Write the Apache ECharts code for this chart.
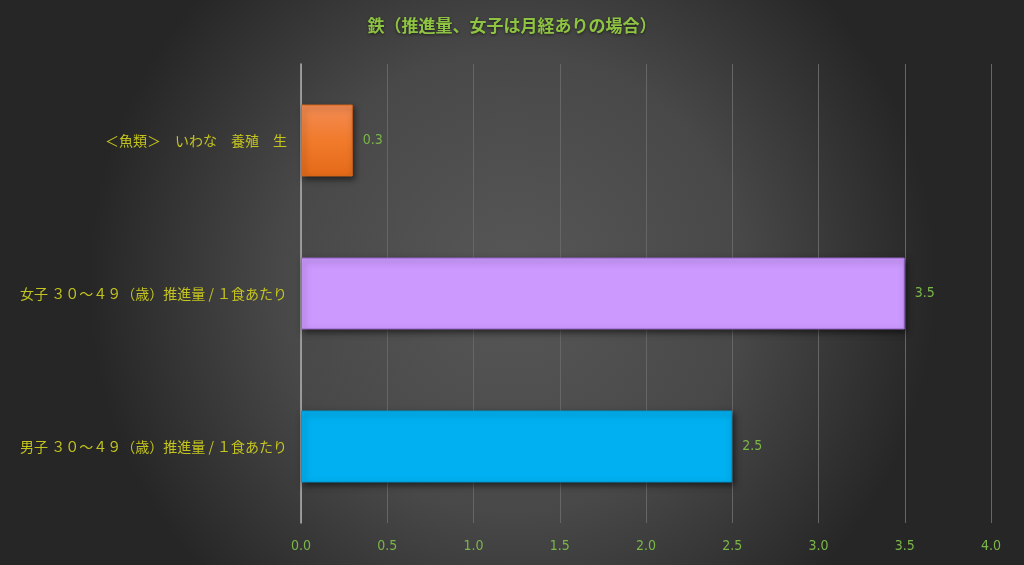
<!DOCTYPE html>
<html lang="ja">
<head>
    <meta charset="UTF-8">
    <title>鉄（推進量、女子は月経ありの場合）</title>
    <script src="https://cdn.jsdelivr.net/npm/echarts@6/dist/echarts.min.js"></script>
    <style>
        html, body {
            margin: 0;
            padding: 0;
            width: 100%;
            height: 100%;
            background: #333;
        }
        #chart {
            width: 1024px;
            height: 565px;
        }
    </style>
</head>
<body>
    <div id="chart"></div>
    <script>
        // データ（下から上の順）
        var categories = [
            '男子 ３０～４９（歳）推進量 / １食あたり',
            '女子 ３０～４９（歳）推進量 / １食あたり',
            '＜魚類＞　いわな　養殖　生'
        ];
        var values = [2.5, 3.5, 0.3];
        var tickMin = 0;
        var tickMax = 4;
        var tickStep = 0.5;

        var barColors = [
            { color: '#00b0f0', border: '#0098d0' },
            { color: '#cc99ff', border: '#9966cc' },
            {
                color: new echarts.graphic.LinearGradient(0, 0, 0, 1, [
                    { offset: 0, color: '#f38c55' },
                    { offset: 0.5, color: '#f17a2c' },
                    { offset: 1, color: '#e46a18' }
                ]),
                border: '#d9661c'
            }
        ];

        var jpFont = '"Noto Sans CJK JP", sans-serif';
        var numFont = '"Liberation Sans Narrow", "DejaVu Sans Condensed", "Noto Sans", sans-serif';

        var chart = echarts.init(document.getElementById('chart'));
        chart.setOption({
            backgroundColor: new echarts.graphic.RadialGradient(0.5, 0.5, 0.75, [
                { offset: 0, color: '#575757' },
                { offset: 0.55, color: '#484848' },
                { offset: 1, color: '#262626' }
            ]),
            title: {
                text: '鉄（推進量、女子は月経ありの場合）',
                left: 'center',
                top: 12,
                textStyle: {
                    color: '#8fc442',
                    fontSize: 17,
                    fontWeight: 'bold',
                    fontFamily: jpFont,
                    textShadowColor: 'rgba(0,0,0,0.6)',
                    textShadowBlur: 3,
                    textShadowOffsetY: 1
                }
            },
            grid: {
                left: 301,
                right: 33,
                top: 64,
                bottom: 42,
                containLabel: false
            },
            xAxis: {
                type: 'value',
                min: tickMin,
                max: tickMax,
                interval: tickStep,
                axisLine: { show: false },
                axisTick: { show: false },
                splitLine: {
                    show: true,
                    lineStyle: { color: '#666666', width: 1 }
                },
                axisLabel: {
                    color: '#7ab648',
                    fontSize: 14,
                    fontFamily: numFont,
                    margin: 16,
                    formatter: function (v) { return v.toFixed(1); }
                }
            },
            yAxis: {
                type: 'category',
                data: categories,
                axisLine: {
                    show: true,
                    lineStyle: { color: '#b0b0b0', width: 1.5 }
                },
                axisTick: { show: false },
                splitLine: { show: false },
                axisLabel: {
                    color: '#c4c41e',
                    fontSize: 14,
                    fontFamily: jpFont,
                    margin: 14
                }
            },
            series: [
                {
                    type: 'bar',
                    barWidth: '47%',
                    data: values.map(function (v, i) {
                        return {
                            value: v,
                            itemStyle: {
                                color: barColors[i].color,
                                borderColor: barColors[i].border,
                                borderWidth: 1
                            }
                        };
                    }),
                    itemStyle: {
                        shadowColor: 'rgba(0,0,0,0.55)',
                        shadowBlur: 6,
                        shadowOffsetX: 2,
                        shadowOffsetY: 3
                    },
                    label: {
                        show: true,
                        position: 'right',
                        distance: 10,
                        color: '#7ab648',
                        fontSize: 14,
                        fontFamily: numFont,
                        formatter: function (p) { return p.value.toFixed(1); }
                    }
                }
            ]
        });
    </script>
</body>
</html>
